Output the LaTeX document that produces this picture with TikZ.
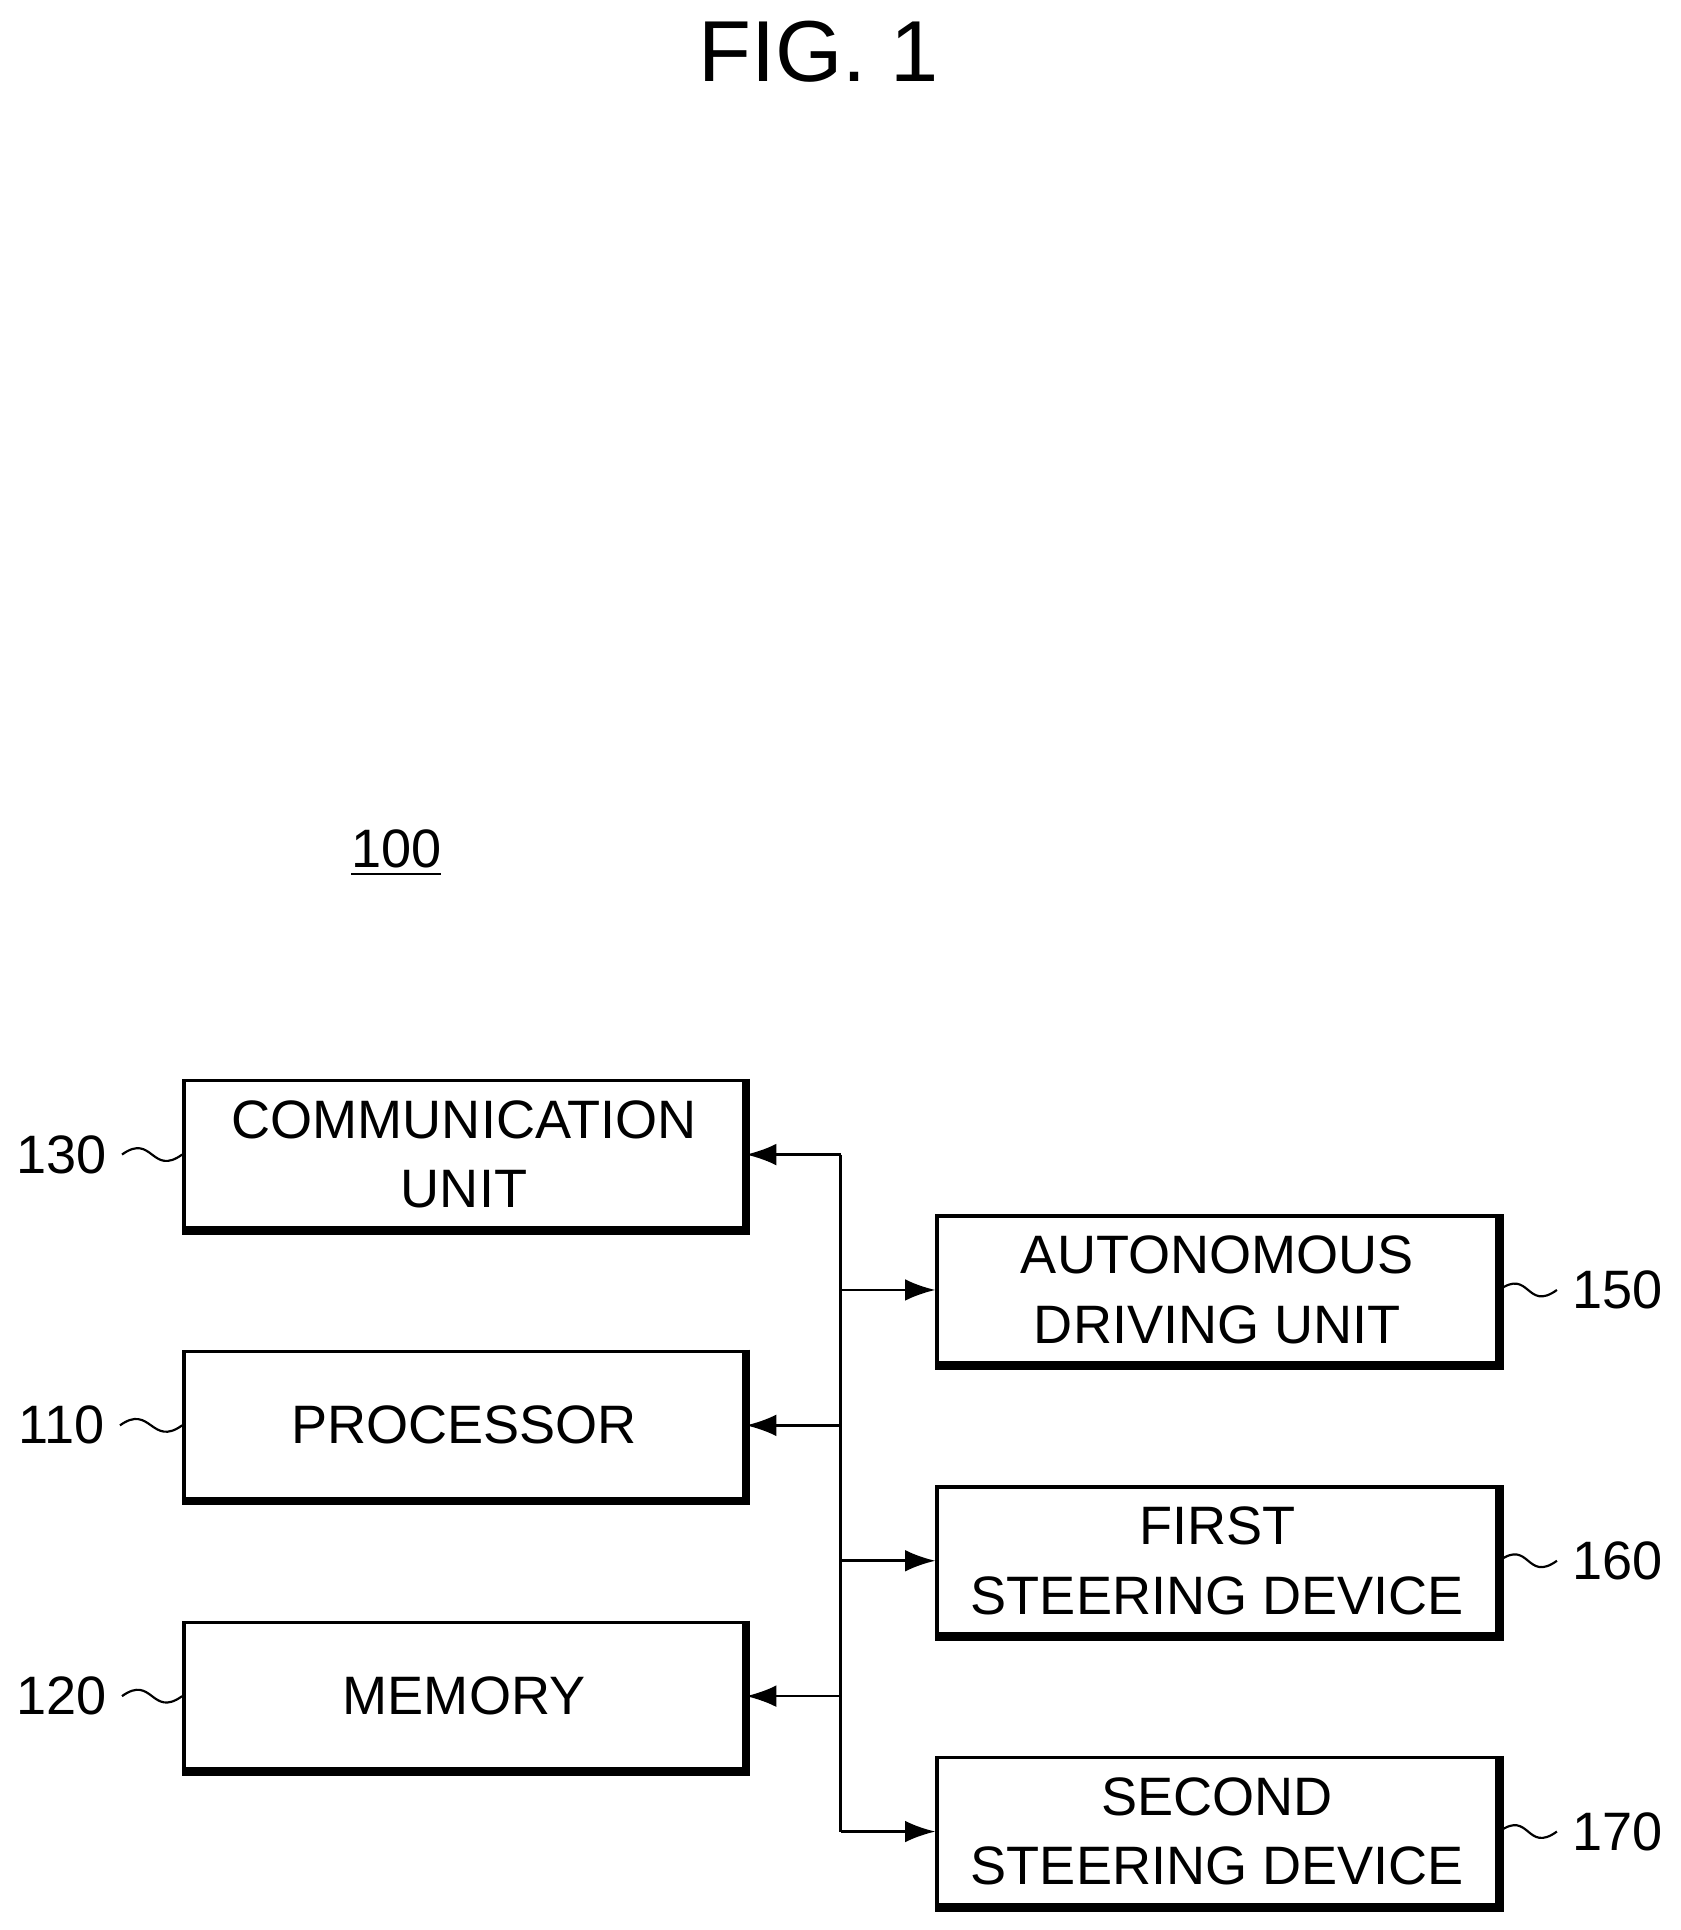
\documentclass[tikz,border=0pt]{standalone}
\usepackage{fontspec}
\setmainfont{Liberation Sans}
\usetikzlibrary{arrows.meta}

\begin{document}
\begin{tikzpicture}[x=0.01cm,y=-0.01cm,
    blk/.style={draw,line width=0.8pt,minimum width=4.55cm,minimum height=1.2cm,align=center,font=\fontsize{12.5}{16}\selectfont,inner sep=0pt},
    lbl/.style={font=\fontsize{12.5}{15}\selectfont},
    squig/.style={line width=0.5pt},
    >={Latex[length=7pt,width=5pt]}]
    \useasboundingbox (0,0) rectangle (1365,1568);
    \node(fig) at (665,42) {\fontsize{20}{24}\selectfont FIG. 1};
    \node[lbl](sys) at (322,693) {\underline{100}};
    \node[blk](comm) at (377,938) {COMMUNICATION\\UNIT};
    \node[blk](proc) at (377,1158) {PROCESSOR};
    \node[blk](mem) at (377,1378) {MEMORY};
    \node[blk](auto) at (989,1048) {AUTONOMOUS\\DRIVING UNIT};
    \node[blk](first) at (989,1268) {FIRST\\STEERING DEVICE};
    \node[blk](second) at (989,1488) {SECOND\\STEERING DEVICE};
    % heavier right and bottom edges
    \foreach \b in {comm,proc,mem,auto,first,second}
        \draw[line width=2pt] (\b.north east) -- (\b.south east) -- (\b.south west);
    % reference numerals
    \node[lbl](n130) at (50,938) {130};
    \node[lbl](n110) at (50,1158) {110};
    \node[lbl](n120) at (50,1378) {120};
    \node[lbl](n150) at (1314,1048) {150};
    \node[lbl](n160) at (1314,1268) {160};
    \node[lbl](n170) at (1314,1488) {170};
    \foreach \n/\b in {n130/comm,n110/proc,n120/mem}
        \draw[squig] (\n.east) .. controls +(25,-18) and +(-25,18) .. (\b.west);
    \foreach \n/\b in {n150/auto,n160/first,n170/second}
        \draw[squig] (\b.east) .. controls +(25,-18) and +(-25,18) .. (\n.west);
    % bus
    \coordinate(top) at (683,938);
    \coordinate(bot) at (683,1488);
    \draw[line width=0.6pt] (top) -- (bot);
    \draw[->,line width=0.6pt] (top) -- (comm.east);
    \draw[->,line width=0.6pt] (proc.east -| top) -- (proc.east);
    \draw[->,line width=0.6pt] (mem.east -| top) -- (mem.east);
    \draw[->,line width=0.6pt] (auto.west -| top) -- (auto.west);
    \draw[->,line width=0.6pt] (first.west -| top) -- (first.west);
    \draw[->,line width=0.6pt] (bot) -- (second.west);
\end{tikzpicture}
\end{document}
